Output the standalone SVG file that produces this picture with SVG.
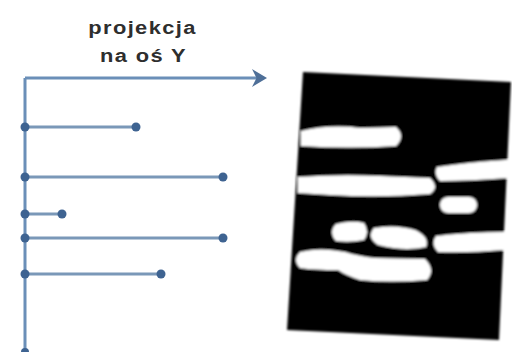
<svg xmlns="http://www.w3.org/2000/svg" width="512" height="352" viewBox="0 0 512 352">
  <style>
    .title { font-family: "Liberation Sans", Arial, sans-serif; font-weight: bold; font-size: 19px; fill: #2e2e2e; letter-spacing: 1.2px; text-anchor: middle; }
    .axis { stroke: #6b8fb8; stroke-width: 3; fill: none; }
    .bar { stroke: #7a98b8; stroke-width: 3; fill: none; }
    .pt { fill: #3e6391; }
    .blob { fill: #ffffff; }
  </style>
  <defs>
    <marker id="arrowHead" markerWidth="6" markerHeight="6" refX="4" refY="3" orient="auto" markerUnits="strokeWidth">
      <path d="M0,0 L5,3 L0,6 L1.5,3 Z" fill="#4e6f98"/>
    </marker>
    <filter id="soft" x="-5%" y="-5%" width="110%" height="110%">
      <feGaussianBlur stdDeviation="0.8"/>
    </filter>
  </defs>
  <rect width="512" height="352" fill="#ffffff"/>

  <!-- heading, slightly widened -->
  <g id="label">
    <text class="title" transform="translate(142.5,34) scale(1.15,1)">projekcja</text>
    <text class="title" transform="translate(143.5,62) scale(1.15,1)">na oś Y</text>
  </g>

  <!-- axis and projection bars -->
  <g id="connectors">
    <line class="axis" x1="25" y1="352" x2="25" y2="78"/>
    <line class="axis" x1="25" y1="78" x2="264" y2="78" marker-end="url(#arrowHead)"/>
    <line class="bar" x1="25" y1="127" x2="136" y2="127"/>
    <line class="bar" x1="25" y1="177" x2="223" y2="177"/>
    <line class="bar" x1="25" y1="214" x2="62" y2="214"/>
    <line class="bar" x1="25" y1="238" x2="223" y2="238"/>
    <line class="bar" x1="25" y1="274" x2="161" y2="274"/>
  </g>

  <g id="points">
    <circle class="pt" cx="25" cy="127" r="4.5"/>
    <circle class="pt" cx="136" cy="127" r="4.5"/>
    <circle class="pt" cx="25" cy="177" r="4.5"/>
    <circle class="pt" cx="223" cy="177" r="4.5"/>
    <circle class="pt" cx="25" cy="214" r="4.5"/>
    <circle class="pt" cx="62" cy="214" r="4.5"/>
    <circle class="pt" cx="25" cy="238" r="4.5"/>
    <circle class="pt" cx="223" cy="238" r="4.5"/>
    <circle class="pt" cx="25" cy="274" r="4.5"/>
    <circle class="pt" cx="161" cy="274" r="4.5"/>
    <circle class="pt" cx="25" cy="352" r="4"/>
  </g>

  <!-- binary text-line image -->
  <g id="image" filter="url(#soft)">
    <polygon points="303,72 511,82 499,340 287,330" fill="#000000"/>
    <path class="blob" d="M301,131 Q330,124 360,128 L396,127 Q406,136 396,146 Q350,149 301,146 Z"/>
    <path class="blob" d="M298,177 Q340,174 380,176 L430,178 Q440,187 430,194 Q380,198 330,195 L298,193 Z"/>
    <path class="blob" d="M437,167 Q470,162 505,160 L509,160 L508,178 Q470,181 440,181 Q433,174 437,167 Z"/>
    <rect class="blob" x="440" y="197" width="37" height="16" rx="8"/>
    <path class="blob" d="M336,224 Q352,220 364,223 Q370,232 364,240 Q350,243 336,241 Q328,232 336,224 Z"/>
    <path class="blob" d="M374,228 Q395,224 415,230 Q430,237 426,247 Q405,252 378,245 Q366,237 374,228 Z"/>
    <path class="blob" d="M436,236 Q470,232 505,232 L504,250 Q470,253 438,252 Q430,244 436,236 Z"/>
    <path class="blob" d="M300,252 Q320,247 345,252 Q358,256 375,258 L425,259 Q436,270 427,280 Q390,283 360,280 Q345,275 338,270 Q315,270 300,268 Q292,260 300,252 Z"/>
  </g>
</svg>
